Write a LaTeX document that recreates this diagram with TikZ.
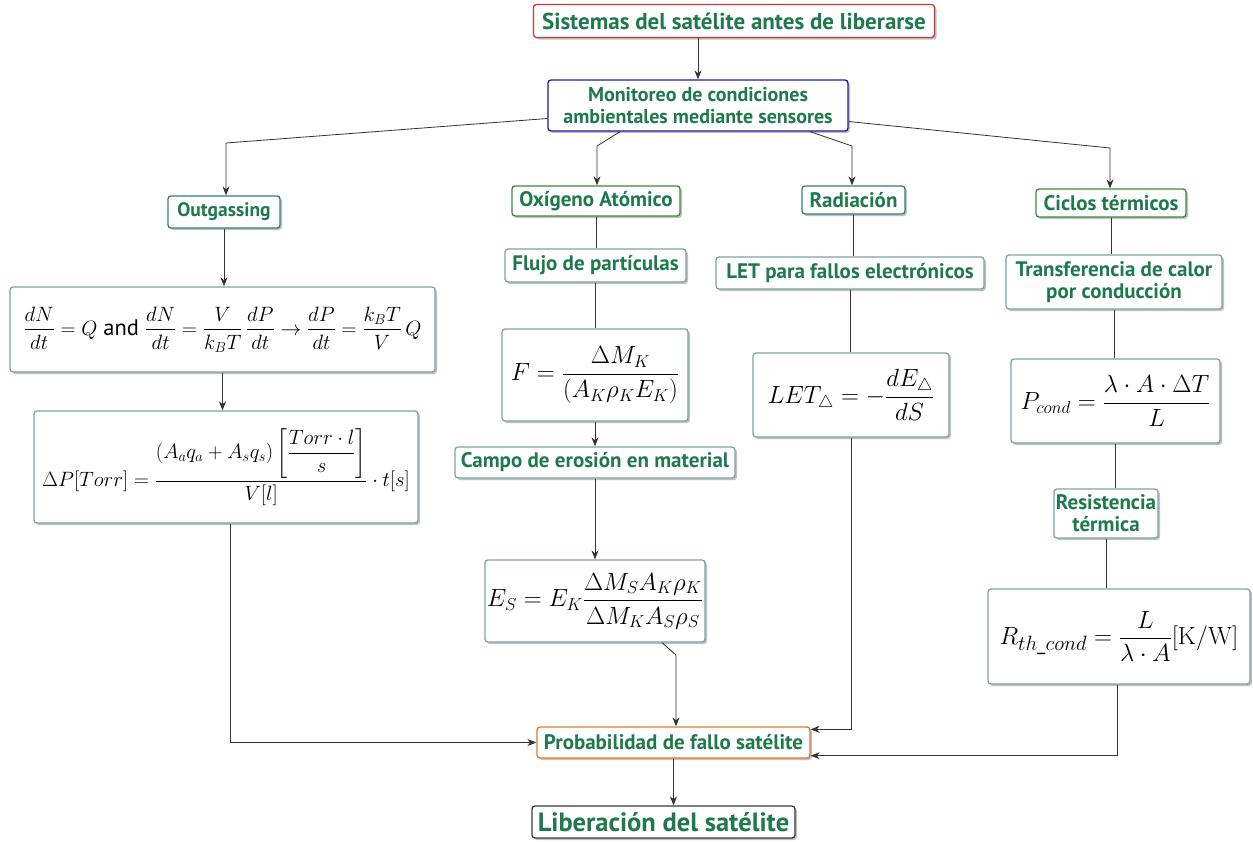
\documentclass[tikz,border=0pt]{standalone}
\usepackage{amsmath}
\usepackage[no-math]{fontspec}
\setmainfont{PT Sans}
\usepackage{xcolor}
\usepackage{tikz}
\usetikzlibrary{arrows.meta, positioning, shadows}
\definecolor{sgreen}{HTML}{1E7A4E}
\definecolor{sred}{HTML}{C83A3A}
\definecolor{sblue}{HTML}{1A1AB0}
\definecolor{steal}{HTML}{2F7F80}
\definecolor{sleaf}{HTML}{3A8A3A}
\definecolor{sgray}{HTML}{7FA3A3}
\definecolor{sorange}{HTML}{E07A30}
\definecolor{sdark}{HTML}{3A3A3A}

\begin{document}
\begin{tikzpicture}[x=1pt, y=-1pt,
  box/.style={draw, rounded corners=3pt, fill=white, line width=1.3pt, text=sgreen,
    align=center, inner sep=2pt,
    font=\fontsize{21}{22}\selectfont\bfseries,
    drop shadow={shadow xshift=2pt, shadow yshift=-2pt, fill=black!40, opacity=.6}},
  eqbox/.style={box, draw=sgray, text=black, font=\fontsize{22.5}{26}\selectfont},
  link/.style={draw=black!80, line width=0.8pt},
  arr/.style={link, -{Stealth[length=9pt,width=7pt]}}]

  \useasboundingbox (0,0) rectangle (1253,841);
  \fill[white] (0,0) rectangle (1253,841);

  %% Top of the map
  \node[box, draw=sred, minimum width=401, minimum height=33,
    font=\fontsize{23}{25}\selectfont\bfseries] (title) at (734,21)
    {Sistemas del satélite antes de liberarse};
  \node[box, draw=sblue, minimum width=300, minimum height=51,
    font=\fontsize{20}{22}\selectfont\bfseries] (monitor) at (698,105.5)
    {Monitoreo de condiciones\\ambientales mediante sensores};

  %% Four branches
  \node[box, draw=steal, minimum width=112, minimum height=32, font=\fontsize{19.5}{22}\selectfont\bfseries]
    (outgas) at (224,212) {Outgassing};
  \node[box, draw=sleaf, minimum width=168, minimum height=30] (oxi) at (596,201) {Oxígeno Atómico};
  \node[box, draw=steal, minimum width=103, minimum height=28] (radi) at (853.5,200) {Radiación};
  \node[box, draw=sleaf, minimum width=150, minimum height=28] (cic) at (1111,203) {Ciclos térmicos};

  %% Sub topics
  \node[box, draw=sgray, minimum width=181, minimum height=33] (flujo) at (595.5,265.5) {Flujo de partículas};
  \node[box, draw=sgray, minimum width=268, minimum height=32] (letl) at (850,273) {LET para fallos electrónicos};
  \node[box, draw=sgray, minimum width=216, minimum height=54] (trans) at (1114,282)
    {Transferencia de calor\\por conducción};
  \node[box, draw=sgray, minimum width=280, minimum height=31] (campo) at (595,462.5) {Campo de erosión en material};
  \node[box, draw=sgray, minimum width=98, minimum height=49] (resis) at (1106,513.5) {Resistencia\\térmica};

  %% Equations
  \node[eqbox, minimum width=425, minimum height=85, inner sep=1pt] (eq1) at (222.5,329.5)
    {$\dfrac{dN}{dt}=Q$ and $\dfrac{dN}{dt}=\dfrac{V}{k_BT}\,\dfrac{dP}{dt}\rightarrow\dfrac{dP}{dt}=\dfrac{k_BT}{V}\,Q$};
  \node[eqbox, minimum width=384, minimum height=112, font=\fontsize{21.5}{25}\selectfont] (dP) at (226,467)
    {$\Delta P[Torr]=\dfrac{(A_aq_a+A_sq_s)\left[\dfrac{Torr\cdot l}{s}\right]}{V[l]}\cdot t[s]$};
  \node[eqbox, minimum width=186, minimum height=92, font=\fontsize{25}{29}\selectfont] (fq) at (595,375)
    {$F=\dfrac{\Delta M_K}{\left(A_K\rho_K E_K\right)}$};
  \node[eqbox, minimum width=196, minimum height=84, font=\fontsize{26}{29}\selectfont] (letq) at (851,395)
    {$LET_\triangle=-\dfrac{dE_\triangle}{dS}$};
  \node[eqbox, minimum width=209, minimum height=84, font=\fontsize{26}{29}\selectfont] (pcond) at (1115.5,401)
    {$P_{cond}=\dfrac{\lambda\cdot A\cdot\Delta T}{L}$};
  \node[eqbox, minimum width=220, minimum height=82, font=\fontsize{23}{27}\selectfont] (es) at (595,601)
    {$E_S=E_K\dfrac{\Delta M_SA_K\rho_K}{\Delta M_KA_S\rho_S}$};
  \node[eqbox, minimum width=262, minimum height=95, font=\fontsize{29}{32}\selectfont] (rth) at (1119,636.5)
    {$R_{th\_cond}=\dfrac{L}{\lambda\cdot A}[\mathrm{K/W}]$};

  %% Bottom of the map
  \node[box, draw=sorange, minimum width=273, minimum height=31] (prob) at (673.5,742.5)
    {Probabilidad de fallo satélite};
  \node[box, draw=sdark, minimum width=263, minimum height=32,
    font=\fontsize{26.5}{28}\selectfont\bfseries] (lib) at (663.5,822) {Liberación del satélite};

  %% Knots of the branch lines
  \coordinate (k1) at (226,143);
  \coordinate (k2) at (597,146);
  \coordinate (k3) at (852,146);
  \coordinate (k4) at (1110,148);
  \coordinate (kE) at (676,655);

  %% Connectors
  \draw[arr] (title.south -| monitor.north) -- (monitor.north);
  \draw[arr] ([yshift=-13pt]monitor.west) -- (k1) -- (k1 |- outgas.north);
  \draw[arr] ([xshift=-78pt]monitor.south) -- (k2) -- (k2 |- oxi.north);
  \draw[arr] ([xshift=112pt]monitor.south) -- (k3) -- (k3 |- radi.north);
  \draw[arr] ([yshift=-16pt]monitor.east) -- (k4) -- (k4 |- cic.north);

  \draw[arr] (outgas.south) -- (outgas.south |- eq1.north);
  \draw[arr] (eq1.south) -- (eq1.south |- dP.north);
  \draw[link] (oxi.south) -- (oxi.south |- flujo.north);
  \draw[link] (flujo.south) -- (flujo.south |- fq.north);
  \draw[arr] (fq.south) -- (fq.south |- campo.north);
  \draw[arr] (campo.south) -- (campo.south |- es.north);
  \draw[link] (radi.south) -- (radi.south |- letl.north);
  \draw[link] (letl.south) -- (letl.south |- letq.north);
  \draw[link] (cic.south) -- (cic.south |- trans.north);
  \draw[link] (trans.south) -- (trans.south |- pcond.north);
  \draw[link] (pcond.south) -- (pcond.south |- resis.north);
  \draw[link] (resis.south) -- (resis.south |- rth.north);

  \draw[arr] ([xshift=4pt]dP.south) |- (prob.west);
  \draw[arr] ([xshift=67pt]es.south) -- (kE) -- (kE |- prob.north);
  \draw[arr] (letq.south) |- ([yshift=-3pt]prob.north east);
  \draw[arr] ([xshift=-2pt]rth.south) |- ([yshift=3pt]prob.south east);
  \draw[arr] (prob.south) -- (prob.south |- lib.north);

\end{tikzpicture}
\end{document}
